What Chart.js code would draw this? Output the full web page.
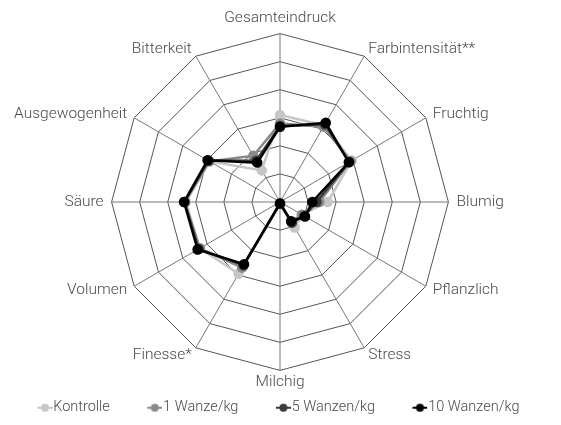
<!DOCTYPE html>
<html>
<head>
<meta charset="utf-8">
<script src="https://cdn.jsdelivr.net/npm/chart.js@4"></script>
<style>
  html, body { margin: 0; padding: 0; background: #fff; }
  #wrap { width: 561px; height: 425px; }
</style>
</head>
<body>
<div id="wrap"><canvas id="radar"></canvas></div>
<script>
const labels = ['Gesamteindruck', 'Farbintensität**', 'Fruchtig', 'Blumig', 'Pflanzlich', 'Stress',
  'Milchig', 'Finesse*', 'Volumen', 'Säure', 'Ausgewogenheit', 'Bitterkeit'];

const kontrolle = [3.1, 3.15, 2.95, 1.7, 0.9, 1.05, 0.1, 2.95, 3.3, 3.35, 2.9, 1.3];
const wanze1 = [2.8, 3.1, 2.9, 1.4, 0.9, 0.8, 0.05, 2.7, 3.3, 3.4, 2.9, 1.9];
const wanze5 = [2.7, 3.2, 2.85, 1.3, 1.0, 0.85, 0.05, 2.6, 3.35, 3.4, 2.95, 1.7];
const wanze10 = [2.68, 3.26, 2.83, 1.15, 1.03, 0.79, 0.05, 2.56, 3.39, 3.42, 2.98, 1.62];

const textColor = '#4a4a4a';
const fontFamily = 'Roboto';

// legend marker: short line with a dot, drawn at the right end so it sits
// just in front of the text; the empty left part makes the gap between items
function marker(color) {
  const c = document.createElement('canvas');
  c.width = 56; c.height = 10;
  const g = c.getContext('2d');
  g.strokeStyle = color; g.lineWidth = 2;
  g.beginPath(); g.moveTo(41, 5); g.lineTo(56, 5); g.stroke();
  g.fillStyle = color;
  g.beginPath(); g.arc(48.5, 5, 4, 0, Math.PI * 2); g.fill();
  return c;
}

function ds(label, data, color, order) {
  return {
    label, data, order,
    borderColor: color,
    backgroundColor: color,
    pointBackgroundColor: color,
    pointBorderColor: color,
    pointRadius: 4,
    borderWidth: 2.5,
    fill: false,
    _marker: marker(color)
  };
}

const datasets = [
  ds('Kontrolle', kontrolle, '#c6c6c6', 4),
  ds('1 Wanze/kg', wanze1, '#8a8a8a', 3),
  ds('5 Wanzen/kg', wanze5, '#3a3a3a', 2),
  ds('10 Wanzen/kg', wanze10, '#000000', 1)
];

new Chart(document.getElementById('radar'), {
  type: 'radar',
  data: { labels, datasets },
  options: {
    responsive: true,
    maintainAspectRatio: false,
    animation: false,
    layout: { padding: { top: 7, bottom: 0, left: 0, right: 20 } },
    plugins: {
      tooltip: { enabled: false },
      legend: {
        position: 'bottom',
        align: 'start',
        labels: {
          usePointStyle: true,
          pointStyleWidth: 43,
          padding: 3,
          color: textColor,
          font: { family: fontFamily, size: 14.5, weight: 300 },
          generateLabels(chart) {
            return chart.data.datasets.map((d, i) => ({
              text: d.label,
              pointStyle: d._marker,
              fillStyle: d.borderColor,
              strokeStyle: d.borderColor,
              lineWidth: 0,
              fontColor: textColor,
              datasetIndex: i,
              hidden: false
            }));
          }
        }
      }
    },
    scales: {
      r: {
        min: 0,
        max: 6,
        ticks: { stepSize: 1, display: false },
        grid: { color: '#555', lineWidth: 1 },
        angleLines: { color: '#777', lineWidth: 1 },
        pointLabels: {
          color: textColor,
          padding: 8,
          font: { family: fontFamily, size: 15.5, weight: 300 }
        },
        // centre the side labels vertically on their spoke end, as in the original
        afterFit(scale) {
          const n = labels.length;
          scale._pointLabelItems.forEach((it, i) => {
            const a = i * 360 / n;
            const h = it.bottom - it.top;
            let dy = 0;
            if (a === 0) dy = 2;
            else if (a === 180) dy = -6;
            else if ((a > 0 && a < 90) || a > 270) dy = h / 2;
            else if (a > 90 && a < 270) dy = -h / 2;
            it.y += dy; it.top += dy; it.bottom += dy;
          });
        }
      }
    }
  }
});
</script>
</body>
</html>
